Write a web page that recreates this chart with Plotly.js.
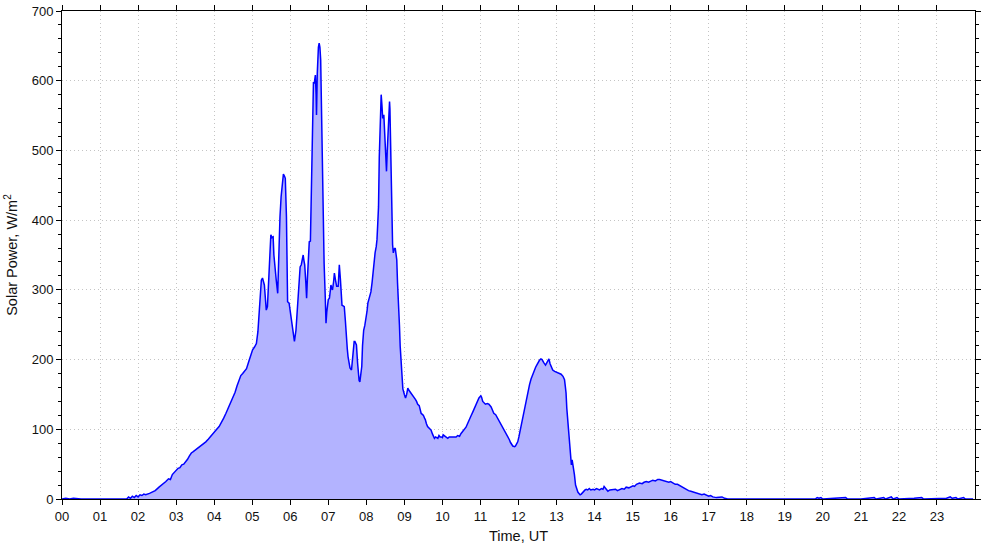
<!DOCTYPE html>
<html>
<head>
<meta charset="utf-8">
<script src="https://cdn.plot.ly/plotly-3.0.1.min.js"></script>
<style>html,body{margin:0;padding:0;background:#fff;}#chart{width:985px;height:547px;}</style>
</head>
<body>
<div id="chart"></div>
<script>
// Time in hours (UT)
const timeUT = [
0.00,0.10,0.20,0.30,0.50,0.70,0.90,1.00,1.20,1.40,1.60,1.70,1.75,1.80,1.85,1.90,1.95,2.00,2.05,2.10,2.15,2.20,2.30,2.38,2.45,2.55,2.60,2.65,2.73,2.80,2.85,2.90,2.95,3.00,3.05,3.10,3.15,3.20,3.26,3.30,3.35,3.40,3.45,3.50,3.55,3.60,3.65,3.70,3.78,3.85,3.90,3.96,4.00,4.05,4.13,4.20,4.25,4.31,4.37,4.42,4.48,4.55,4.60,4.66,4.70,4.75,4.79,4.85,4.92,4.97,5.01,5.06,5.11,5.15,5.18,5.21,5.24,5.27,5.30,5.32,5.35,5.37,5.40,5.43,5.45,5.49,5.52,5.55,5.57,5.59,5.63,5.67,5.69,5.71,5.73,5.76,5.79,5.82,5.85,5.87,5.90,5.92,5.93,5.97,6.00,6.03,6.07,6.11,6.15,6.18,6.21,6.24,6.26,6.29,6.32,6.34,6.36,6.38,6.41,6.43,6.45,6.47,6.50,6.53,6.56,6.59,6.61,6.63,6.66,6.68,6.69,6.71,6.72,6.74,6.76,6.78,6.80,6.82,6.85,6.87,6.89,6.92,6.94,6.96,6.98,7.00,7.03,7.05,7.07,7.09,7.11,7.14,7.16,7.19,7.22,7.26,7.29,7.32,7.34,7.36,7.39,7.42,7.45,7.47,7.50,7.52,7.55,7.57,7.61,7.63,7.66,7.68,7.70,7.72,7.74,7.77,7.79,7.81,7.83,7.85,7.88,7.90,7.93,7.96,7.99,8.02,8.04,8.08,8.12,8.15,8.17,8.20,8.23,8.26,8.28,8.30,8.32,8.34,8.36,8.38,8.39,8.41,8.43,8.46,8.48,8.50,8.52,8.53,8.55,8.57,8.59,8.61,8.62,8.63,8.65,8.67,8.69,8.71,8.73,8.76,8.78,8.80,8.82,8.85,8.87,8.89,8.92,8.94,8.96,9.00,9.03,9.06,9.09,9.12,9.15,9.18,9.22,9.26,9.29,9.32,9.35,9.39,9.42,9.44,9.48,9.50,9.53,9.55,9.58,9.61,9.66,9.70,9.74,9.77,9.79,9.82,9.85,9.88,9.91,9.94,9.97,10.00,10.02,10.05,10.08,10.11,10.14,10.18,10.23,10.27,10.32,10.36,10.40,10.45,10.49,10.53,10.58,10.62,10.66,10.71,10.75,10.80,10.85,10.89,10.93,10.96,11.01,11.03,11.06,11.09,11.13,11.18,11.22,11.25,11.28,11.32,11.35,11.40,11.44,11.49,11.54,11.58,11.63,11.68,11.72,11.76,11.79,11.82,11.85,11.90,11.92,11.95,11.98,12.01,12.04,12.08,12.11,12.15,12.20,12.24,12.29,12.33,12.38,12.42,12.45,12.48,12.52,12.55,12.59,12.62,12.66,12.71,12.75,12.78,12.80,12.83,12.86,12.90,12.95,13.00,13.04,13.08,13.12,13.17,13.19,13.21,13.23,13.25,13.27,13.30,13.32,13.34,13.36,13.38,13.39,13.41,13.43,13.45,13.47,13.50,13.53,13.56,13.59,13.62,13.65,13.69,13.72,13.75,13.78,13.82,13.86,13.90,13.96,14.00,14.05,14.10,14.13,14.18,14.22,14.25,14.30,14.35,14.40,14.48,14.55,14.60,14.66,14.72,14.78,14.83,14.90,14.95,15.01,15.05,15.10,15.18,15.25,15.30,15.36,15.42,15.48,15.53,15.60,15.66,15.71,15.76,15.80,15.85,15.89,15.95,16.00,16.06,16.12,16.18,16.24,16.30,16.36,16.41,16.47,16.53,16.59,16.65,16.70,16.76,16.82,16.88,16.94,17.00,17.05,17.11,17.20,17.29,17.35,17.42,17.50,18.00,19.00,19.80,19.85,19.90,19.95,20.00,20.30,20.60,20.65,21.00,21.35,21.40,21.60,21.65,21.80,21.85,21.95,22.00,22.40,22.60,22.65,23.00,23.25,23.35,23.40,23.50,23.55,23.70,23.75,23.95
];
// Solar power, W/m^2
const solarPower = [
0,1,0,1,0,0,1,0,1,0,1,0,3,1,4,2,5,3,6,5,7,6,8,10.5,12,17,19,22,25,29,28,35,38,40,44,45,49,50,54,57,62,66,68,70,73,75,77,79,82,86,89,92,96,99,104,110,116,123,131,137,143,153,162,171,177,180,183,187,199,207,214,218,223,240,261,290,314,317,312,307,285,271,276,315,343,379,375,376,350,333,315,295,340,376,405,434,450,466,463,460,405,340,283,281,268,257,240,226,242,265,290,315,333,336,343,350,342,336,310,288,315,338,369,370,480,596,598,596,608,580,551,610,635,648,654,648,630,560,458,400,338,290,252,268,281,286,288,303,307,302,300,312,324,314,305,305,336,314,295,278,277,276,255,233,215,204,193,188,185,195,219,226,226,224,221,195,180,170,168,175,190,220,242,249,257,270,281,290,297,310,324,338,353,362,372,395,419,490,544,570,580,565,546,551,530,515,490,470,500,529,555,570,560,534,460,391,365,353,358,360,352,343,310,281,250,219,190,170,158,150,145,150,159,156,154,152,149,145,143,140,136,134,128,123,121,120,116,114,108,104,101,99,93,88,87,89,88,87,91,89,89,88,92,91,89,88,87,89,89,90,90,89,91,90,94,97,100,103,108,113,119,125,131,137,142,145,148,146,140,138,136,137,136,134,132,127,123,121,117,113,109,104,99,94,89,85,81,78,76,75,76,79,82,89,97,108,118,130,142,153,164,172,180,185,189,192,197,199,201,200,196,192,196,199,201,194,190,185,183,182,181,180,179,176,173,171,162,152,130,109,90,73,61,52,49,56,50,46,35,20,14,10,8,6,7,10,11,13,14,13,15,13,14,13,15,13,13,15,14,18,14,11,13,13,14,12,14,15,14,17,16,17,19,18,21,23,22,24,25,24,26,27,26,28,28,27,26,25,25,24,25,23,21,21,19,17,15,14,12,11,10,9,8,8,6,7,6,4,5,3,2,2,3,1,0,0,0,0,2,1,2,0,1,2,0,0,2,0,2,0,3,0,2,0,1,2,0,0,1,3,1,2,0,2,0,0
];
const hourTicks = [0,1,2,3,4,5,6,7,8,9,10,11,12,13,14,15,16,17,18,19,20,21,22,23];
const hourLabels = ["00","01","02","03","04","05","06","07","08","09","10","11","12","13","14","15","16","17","18","19","20","21","22","23"];

const trace = {
  x: timeUT, y: solarPower, type: 'scatter', mode: 'lines',
  line: {color: '#0000ff', width: 1.5},
  fill: 'tozeroy', fillcolor: 'rgb(179,179,255)',
  hoverinfo: 'skip'
};
const font = {family: '"Liberation Sans", Arial, sans-serif', size: 13, color: '#111'};
const titleFont = {family: '"Liberation Sans", Arial, sans-serif', size: 14.5, color: '#111'};
const layout = {
  width: 985, height: 547,
  margin: {l: 62, r: 10, t: 11, b: 48},
  paper_bgcolor: '#fff', plot_bgcolor: '#fff',
  font: font,
  showlegend: false,
  xaxis: {
    range: [0, 24], tickmode: 'array', tickvals: hourTicks, ticktext: hourLabels,
    ticks: 'outside', ticklen: 5, tickwidth: 1, tickcolor: '#000',
    showline: true, linecolor: '#000', linewidth: 1, mirror: 'ticks',
    showgrid: true, gridcolor: '#c4c4c4', griddash: '1px,3px', gridwidth: 1,
    zeroline: false,
    title: {text: 'Time, UT', font: titleFont, standoff: 8}
  },
  yaxis: {
    range: [0, 700], tickmode: 'linear', tick0: 0, dtick: 100,
    ticks: 'outside', ticklen: 5, tickwidth: 1, tickcolor: '#000',
    minor: {dtick: 20, ticks: 'outside', ticklen: 3, tickcolor: '#000', showgrid: false},
    showline: true, linecolor: '#000', linewidth: 1, mirror: 'ticks',
    showgrid: true, gridcolor: '#c4c4c4', griddash: '1px,3px', gridwidth: 1,
    zeroline: false,
    title: {text: 'Solar Power, W/m<sup>2</sup>', font: titleFont, standoff: 10}
  }
};
Plotly.newPlot('chart', [trace], layout, {staticPlot: true, displayModeBar: false});
</script>
</body>
</html>
